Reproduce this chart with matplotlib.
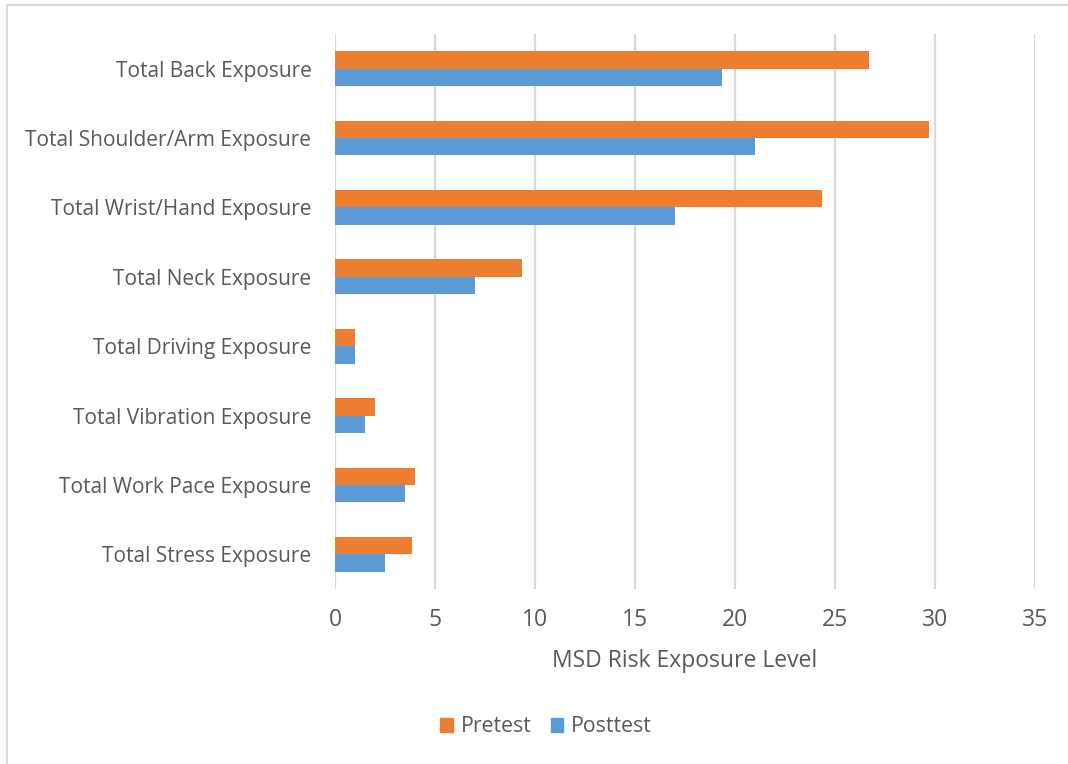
import matplotlib
matplotlib.use("Agg")
import matplotlib.pyplot as plt
from matplotlib.lines import Line2D
from matplotlib.patches import Patch
import numpy as np

plt.rcParams['font.family'] = ['Open Sans', 'DejaVu Sans']

categories = ["Total Back Exposure", "Total Shoulder/Arm Exposure",
              "Total Wrist/Hand Exposure", "Total Neck Exposure",
              "Total Driving Exposure", "Total Vibration Exposure",
              "Total Work Pace Exposure", "Total Stress Exposure"]
pretest = [26.7, 29.7, 24.35, 9.35, 1.0, 2.0, 4.0, 3.85]
posttest = [19.35, 21.0, 17.0, 7.0, 1.0, 1.5, 3.5, 2.5]
xticks = [0, 5, 10, 15, 20, 25, 30, 35]

ORANGE = "#ED7D31"
BLUE = "#5B9BD5"
GRID = "#d9d9d9"
TEXT = "#595959"

fig = plt.figure(figsize=(10.68, 7.64), dpi=100)
ax = fig.add_axes([335/1068, 1 - 589/764, 700/1068, 555/764])

y = np.arange(len(categories))
h = 0.25
ax.barh(y - h/2, pretest, height=h, color=ORANGE, label="Pretest", zorder=3)
ax.barh(y + h/2, posttest, height=h, color=BLUE, label="Posttest", zorder=3)

ax.set_ylim(len(categories) - 0.5, -0.5)
ax.set_xlim(0, 35)
ax.set_xticks(xticks)
ax.set_yticks(y)
ax.set_yticklabels(categories)
ax.tick_params(axis='both', length=0, colors=TEXT)
ax.tick_params(axis='y', pad=17, labelsize=15)
ax.tick_params(axis='x', pad=14, labelsize=16.5)
ax.xaxis.grid(True, color=GRID, linewidth=1.6, zorder=0)
for s in ['top', 'right', 'bottom', 'left']:
    ax.spines[s].set_visible(False)
ax.set_xlabel("MSD Risk Exposure Level", fontsize=16.5, color=TEXT, labelpad=12)

handles = [Patch(color=ORANGE), Patch(color=BLUE)]
fig.legend(handles, ["Pretest", "Posttest"], loc='center', bbox_to_anchor=(546/1068, 1 - 727/764),
           ncol=2, frameon=False, fontsize=15.3, labelcolor=TEXT, handlelength=0.6, handleheight=0.6,
           handletextpad=0.35, columnspacing=0.9)

# outer chart frame (only top and left edges are visible in the source)
fig.add_artist(Line2D([7/1068, 7/1068], [0, 1 - 5/764], color=GRID, linewidth=1.5))
fig.add_artist(Line2D([7/1068, 1], [1 - 5/764, 1 - 5/764], color=GRID, linewidth=1.5))

fig.savefig("out.png", dpi=100)
